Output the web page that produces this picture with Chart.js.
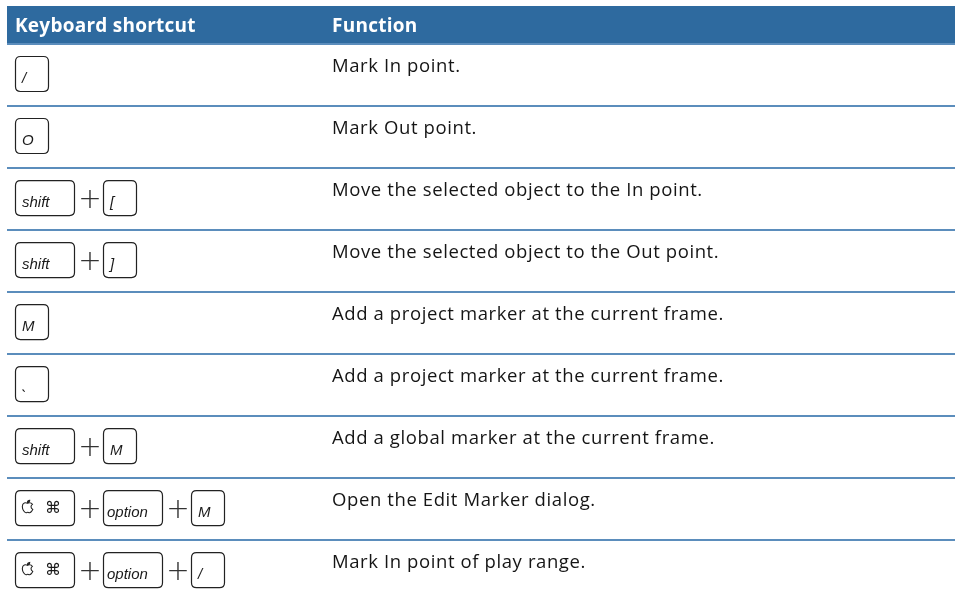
<!DOCTYPE html>
<html>
<head>
<meta charset="utf-8">
<script src="https://cdn.jsdelivr.net/npm/chart.js@4"></script>
<style>
    html, body { margin: 0; padding: 0; background: #ffffff; }
    #wrap { width: 955px; height: 596px; position: relative; }
</style>
</head>
<body>
<div id="wrap"><canvas id="shortcutChart"></canvas></div>
<script>
const headers = ['Keyboard shortcut', 'Function'];

const functions = [
    'Mark In point.',
    'Mark Out point.',
    'Move the selected object to the In point.',
    'Move the selected object to the Out point.',
    'Add a project marker at the current frame.',
    'Add a project marker at the current frame.',
    'Add a global marker at the current frame.',
    'Open the Edit Marker dialog.',
    'Mark In point of play range.'
];

const shortcuts = [
    ['/'],
    ['O'],
    ['shift', '['],
    ['shift', ']'],
    ['M'],
    ['`'],
    ['shift', 'M'],
    ['cmd', 'option', 'M'],
    ['cmd', 'option', '/']
];

const rowIndex = functions.map((f, i) => i + 0.5);

const HEADER_BLUE = '#2e6a9f';
const LINE_BLUE = '#5b8dbc';
const FUNC_X = 332;

function roundRect(ctx, x, y, w, h, r) {
    ctx.beginPath();
    ctx.moveTo(x + r, y);
    ctx.lineTo(x + w - r, y);
    ctx.quadraticCurveTo(x + w, y, x + w, y + r);
    ctx.lineTo(x + w, y + h - r);
    ctx.quadraticCurveTo(x + w, y + h, x + w - r, y + h);
    ctx.lineTo(x + r, y + h);
    ctx.quadraticCurveTo(x, y + h, x, y + h - r);
    ctx.lineTo(x, y + r);
    ctx.quadraticCurveTo(x, y, x + r, y);
    ctx.closePath();
}

function drawApple(ctx, x, y) {
    ctx.save();
    ctx.translate(x, y);
    ctx.scale(1.1, 1.0);
    ctx.beginPath();
    ctx.moveTo(5, 3.2);
    ctx.bezierCurveTo(3.5, 2.2, 0.3, 2.3, 0.3, 6.3);
    ctx.bezierCurveTo(0.3, 9.5, 2.3, 12.5, 3.6, 12.5);
    ctx.bezierCurveTo(4.4, 12.5, 4.6, 12.1, 5.2, 12.1);
    ctx.bezierCurveTo(5.8, 12.1, 6.0, 12.5, 6.8, 12.5);
    ctx.bezierCurveTo(8.0, 12.5, 9.3, 10.5, 9.8, 9.2);
    ctx.bezierCurveTo(8.6, 8.6, 8.2, 7.6, 8.2, 6.6);
    ctx.bezierCurveTo(8.2, 5.4, 8.9, 4.6, 9.5, 4.2);
    ctx.bezierCurveTo(8.8, 3.0, 7.6, 2.6, 6.8, 2.6);
    ctx.bezierCurveTo(6.0, 2.6, 5.5, 3.2, 5, 3.2);
    ctx.closePath();
    ctx.moveTo(5, 2.4);
    ctx.bezierCurveTo(5, 1.2, 5.8, 0.3, 7, 0.2);
    ctx.bezierCurveTo(7, 1.4, 6.2, 2.3, 5, 2.4);
    ctx.closePath();
    ctx.lineWidth = 1;
    ctx.strokeStyle = '#222';
    ctx.stroke();
    ctx.restore();
}

function drawKey(ctx, key, x, top) {
    const wide = key.length > 1;
    const w = wide ? 59 : 33;
    const h = 35;
    roundRect(ctx, x + 0.5, top + 0.5, w, h, 5);
    ctx.lineWidth = 1.2;
    ctx.strokeStyle = '#222';
    ctx.stroke();

    ctx.fillStyle = '#1a1a1a';
    ctx.textBaseline = 'alphabetic';
    ctx.textAlign = 'left';
    if (key === 'cmd') {
        drawApple(ctx, x + 7, top + 10);
        ctx.font = '16px "DejaVu Sans"';
        ctx.fillText('\u2318', x + 30, top + 23);
    } else if (key === 'option') {
        ctx.font = 'italic 15px "Liberation Sans"';
        ctx.fillText(key, x + 4, top + 27);
    } else if (key === '`') {
        ctx.font = 'italic 16px "Liberation Sans"';
        ctx.fillText(key, x + 6, top + 36);
    } else {
        ctx.font = 'italic 15px "Liberation Sans"';
        ctx.fillText(key, x + 7, top + 27);
    }
    return x + w + 1;
}

const tablePlugin = {
    id: 'shortcutTable',
    beforeDraw(chart) {
        const ctx = chart.ctx;
        const area = chart.chartArea;
        ctx.save();
        ctx.fillStyle = HEADER_BLUE;
        ctx.fillRect(area.left, 6, area.right - area.left, 37);
        ctx.fillStyle = '#ffffff';
        ctx.font = 'bold 19px "Open Sans"';
        ctx.letterSpacing = '0.25px';
        ctx.textBaseline = 'alphabetic';
        ctx.fillText(headers[0], 15, 32);
        ctx.fillText(headers[1], FUNC_X, 32);
        ctx.restore();
    },
    afterDatasetsDraw(chart) {
        const ctx = chart.ctx;
        const yScale = chart.scales.y;
        ctx.save();
        functions.forEach((text, i) => {
            const top = yScale.getPixelForValue(i);
            // function text
            ctx.fillStyle = '#151515';
            ctx.font = '18.5px "Open Sans"';
            ctx.letterSpacing = '0.6px';
            ctx.textBaseline = 'alphabetic';
            ctx.textAlign = 'left';
            ctx.fillText(text, FUNC_X, top + 28);
            ctx.letterSpacing = '0px';
            // key caps
            let x = 15;
            shortcuts[i].forEach((key, k) => {
                if (k > 0) {
                    ctx.fillStyle = '#333';
                    ctx.font = '200 28px "DejaVu Sans"';
                    ctx.textAlign = 'center';
                    ctx.fillText('+', x + 15, top + 40);
                    ctx.textAlign = 'left';
                    x += 28;
                }
                x = drawKey(ctx, key, x, top + 12);
            });
        });
        ctx.restore();
    }
};

const ctx = document.getElementById('shortcutChart').getContext('2d');
new Chart(ctx, {
    type: 'scatter',
    data: {
        datasets: [{
            label: 'rows',
            data: rowIndex.map(v => ({ x: 0, y: v })),
            pointRadius: 0,
            showLine: false
        }]
    },
    options: {
        responsive: true,
        maintainAspectRatio: false,
        animation: false,
        layout: { padding: { top: 44, left: 7, right: 0, bottom: 0 } },
        plugins: {
            legend: { display: false },
            tooltip: { enabled: false }
        },
        scales: {
            x: { display: false, min: 0, max: 1 },
            y: {
                reverse: true,
                min: 0,
                max: 8.9,
                afterBuildTicks(scale) {
                    scale.ticks = functions.map((f, i) => ({ value: i }));
                },
                ticks: { display: false },
                border: { display: false },
                grid: {
                    color: LINE_BLUE,
                    lineWidth: 2,
                    drawTicks: false
                }
            }
        }
    },
    plugins: [tablePlugin]
});
</script>
</body>
</html>
